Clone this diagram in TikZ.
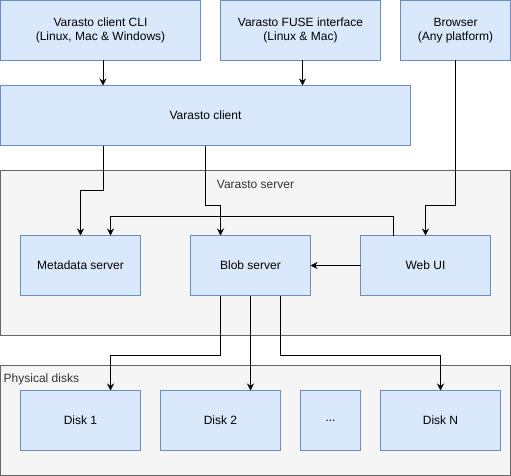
\documentclass[tikz,border=0pt]{standalone}
\usepackage{fontspec}
\setmainfont{Liberation Sans}
\usetikzlibrary{arrows.meta}

\definecolor{boxfill}{HTML}{DAE8FC}
\definecolor{boxline}{HTML}{6C8EBF}
\definecolor{groupfill}{HTML}{F5F5F5}
\definecolor{groupline}{HTML}{666666}
\definecolor{grouptext}{HTML}{333333}

\begin{document}
\begin{tikzpicture}[x=1pt, y=-1pt,
  part/.style={draw=boxline, fill=boxfill, line width=1pt, inner sep=0pt, outer sep=0pt, minimum height=60pt, align=center, font=\fontsize{12}{14}\selectfont},
  group/.style={draw=groupline, fill=groupfill, line width=1pt, inner sep=0pt, outer sep=0pt},
  grouplabel/.style={text=grouptext, inner sep=0pt, font=\fontsize{12}{14}\selectfont},
  link/.style={line width=1pt, -{Stealth[length=7pt,width=7pt]}}]

\useasboundingbox (0,0) rectangle (511,476);

\begin{scope}[shift={(0.5,0.5)}]

\node[part, minimum width=200pt] (cli) at (100,30) {Varasto client CLI\\(Linux, Mac \& Windows)};
\node[part, minimum width=160pt] (fuse) at (300,30) {Varasto FUSE interface\\(Linux \& Mac)};
\node[part, minimum width=110pt] (browser) at (455,30) {Browser\\(Any platform)};
\node[part, minimum width=410pt] (client) at (205,115) {Varasto client};

\node[group, minimum width=510pt, minimum height=165pt] (server) at (255,252.5) {};
\node[grouplabel] (serverlabel) at (255,184) {Varasto server};
\node[part, minimum width=120pt] (meta) at (80,265) {Metadata server};
\node[part, minimum width=120pt] (blob) at (250,265) {Blob server};
\node[part, minimum width=130pt] (webui) at (425,265) {Web UI};

\node[group, minimum width=510pt, minimum height=110pt] (disks) at (255,420) {};
\node[grouplabel, anchor=west] (diskslabel) at (3,379) {Physical disks};
\foreach \name\x\text in {disk1/80/Disk 1, disk2/220/Disk 2, diskn/440/Disk N}
\node[part, minimum width=120pt] (\name) at (\x,420) {\text};
\node[part, minimum width=60pt] (dots) at (330,420) {...};

\draw[link] ([xshift=2.5pt]cli.south) -- ([xshift=2.5pt]cli.south |- client.north);
\draw[link] ([xshift=2pt]fuse.south) -- ([xshift=2pt]fuse.south |- client.north);

\draw[link] ([xshift=-102.5pt]client.south) -- ++(0,45) -| (meta.north);
\draw[link] (client.south) -- ++(0,60) -| ([xshift=-30pt]blob.north);
\draw[link] (browser.south) -- ++(0,145) -| (webui.north);
\draw[link] ([xshift=-32pt]webui.north) -- ++(0,-19) -| ([xshift=30pt]meta.north);
\draw[link] (webui.west) -- (blob.east);

\draw[link] ([xshift=-30pt]blob.south) -- ++(0,60) -| ([xshift=30pt]disk1.north);
\draw[link] (blob.south) -- (blob.south |- disk2.north);
\draw[link] ([xshift=30pt]blob.south) -- ++(0,60) -| (diskn.north);

\end{scope}

\end{tikzpicture}
\end{document}
